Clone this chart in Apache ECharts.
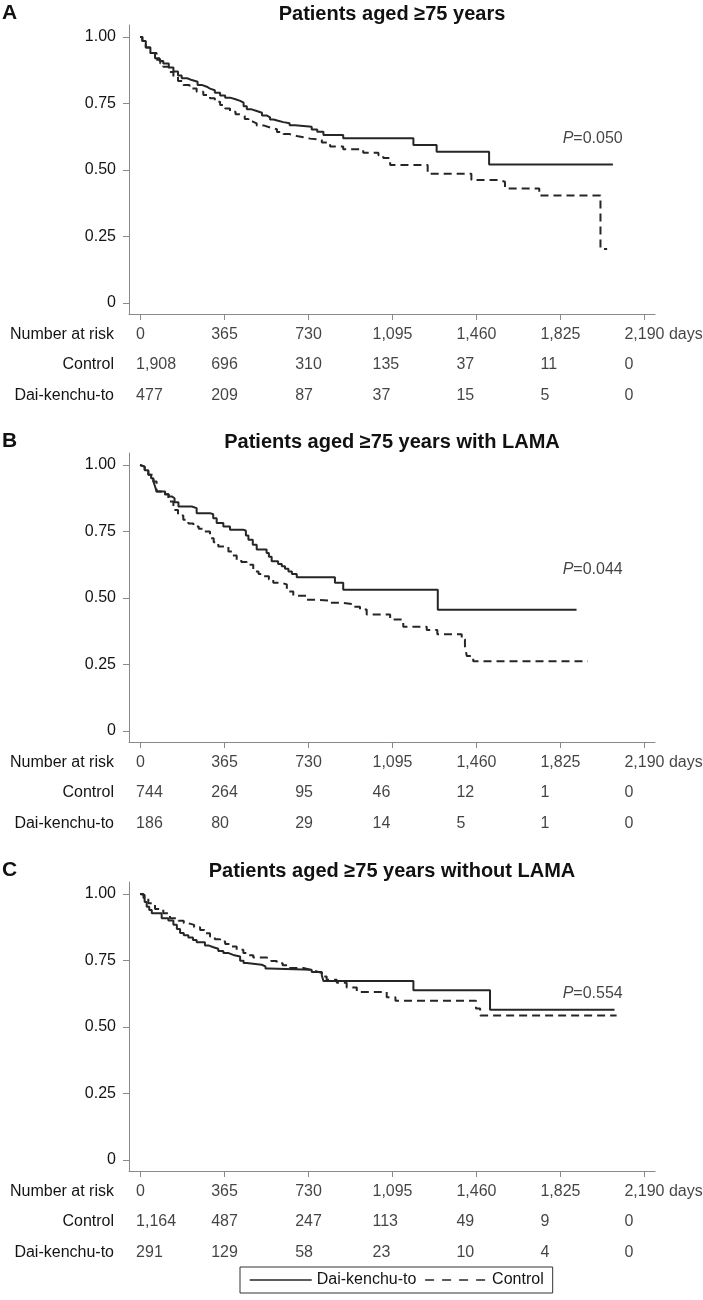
<!DOCTYPE html>
<html><head><meta charset="utf-8">
<script src="https://cdn.jsdelivr.net/npm/echarts@6/dist/echarts.min.js"></script>
<style>html,body{margin:0;padding:0;background:#fff}#c{width:703px;height:1300px}</style>
</head><body><div id="c"></div>
<script>
// ---------------- data ----------------
const dayTicks = [0, 365, 730, 1095, 1460, 1825, 2190];
const dayTickLabels = ['0', '365', '730', '1,095', '1,460', '1,825', '2,190'];
const dayUnit = ' days';
const survTicks = [0, 0.25, 0.5, 0.75, 1];
const survTickLabels = ['0', '0.25', '0.50', '0.75', '1.00'];
const riskRowLabels = ['Number at risk', 'Control', 'Dai-kenchu-to'];
const groupNames = ['Dai-kenchu-to', 'Control'];
const panelLetters = ['A', 'B', 'C'];
const panelTitles = ['Patients aged \u226575 years', 'Patients aged \u226575 years with LAMA', 'Patients aged \u226575 years without LAMA'];
const pValues = ['0.050', '0.044', '0.554'];

const riskControlA = ['1,908', '696', '310', '135', '37', '11', '0'];
const riskDaiA = ['477', '209', '87', '37', '15', '5', '0'];
const riskControlB = ['744', '264', '95', '46', '12', '1', '0'];
const riskDaiB = ['186', '80', '29', '14', '5', '1', '0'];
const riskControlC = ['1,164', '487', '247', '113', '49', '9', '0'];
const riskDaiC = ['291', '129', '58', '23', '10', '4', '0'];

// Kaplan-Meier curves: [day, survival]
const kmDaiA = [[0,1],[10,0.985],[25,0.96],[45,0.94],[65,0.92],[85,0.91],[101,0.9],[125,0.885],[145,0.87],[165,0.855],[181,0.845],[205,0.838],[225,0.832],[250,0.82],[268,0.813],[290,0.806],[304,0.8],[325,0.79],[348,0.78],[370,0.772],[391,0.766],[415,0.76],[435,0.753],[450,0.74],[464,0.728],[485,0.722],[507,0.715],[530,0.705],[550,0.698],[565,0.69],[580,0.685],[600,0.68],[623,0.676],[650,0.668],[674,0.663],[746,0.652],[770,0.644],[797,0.632],[883,0.619],[1188,0.594],[1289,0.569],[1517,0.521],[2055,0.521]];
const kmControlA = [[0,1],[10,0.985],[25,0.96],[45,0.94],[72,0.914],[88,0.9],[101,0.888],[125,0.868],[145,0.851],[165,0.835],[188,0.82],[215,0.806],[246,0.794],[275,0.782],[304,0.77],[325,0.757],[348,0.744],[370,0.731],[391,0.719],[415,0.71],[435,0.703],[455,0.692],[471,0.682],[490,0.675],[507,0.667],[540,0.66],[565,0.653],[595,0.643],[623,0.635],[650,0.628],[681,0.623],[710,0.618],[739,0.613],[790,0.603],[826,0.588],[883,0.578],[970,0.565],[1036,0.556],[1057,0.545],[1087,0.519],[1250,0.486],[1440,0.463],[1555,0.456],[1586,0.431],[1735,0.404],[2001,0.203],[2030,0.203]];
const kmDaiB = [[0,1],[7,0.994],[20,0.98],[36,0.963],[48,0.95],[58,0.938],[65,0.92],[72,0.9],[109,0.89],[125,0.882],[138,0.875],[150,0.86],[167,0.844],[225,0.838],[246,0.819],[304,0.815],[318,0.8],[333,0.782],[362,0.769],[391,0.757],[449,0.753],[460,0.735],[471,0.719],[490,0.7],[507,0.682],[550,0.669],[560,0.655],[572,0.638],[600,0.628],[616,0.619],[630,0.61],[645,0.6],[660,0.59],[681,0.578],[847,0.557],[883,0.531],[1294,0.456],[1897,0.456]];
const kmControlB = [[0,1],[7,0.994],[20,0.98],[36,0.963],[58,0.938],[72,0.9],[101,0.89],[123,0.863],[145,0.831],[165,0.81],[188,0.794],[210,0.78],[232,0.769],[255,0.76],[275,0.75],[304,0.725],[320,0.71],[340,0.694],[384,0.675],[400,0.66],[420,0.644],[440,0.635],[464,0.625],[492,0.6],[515,0.59],[536,0.582],[560,0.57],[579,0.557],[616,0.551],[638,0.525],[666,0.509],[724,0.494],[768,0.49],[826,0.482],[883,0.476],[930,0.467],[956,0.457],[985,0.438],[1087,0.419],[1144,0.392],[1246,0.38],[1292,0.364],[1398,0.345],[1412,0.32],[1420,0.282],[1448,0.262],[1946,0.262]];
const kmDaiC = [[0,1],[7,0.996],[20,0.97],[29,0.952],[40,0.94],[51,0.928],[94,0.909],[123,0.9],[145,0.884],[160,0.868],[174,0.853],[190,0.845],[210,0.836],[230,0.827],[246,0.819],[282,0.806],[300,0.8],[319,0.794],[340,0.786],[362,0.778],[385,0.771],[405,0.765],[435,0.749],[450,0.741],[464,0.734],[529,0.728],[545,0.72],[558,0.715],[746,0.707],[790,0.694],[797,0.673],[1188,0.638],[1521,0.565],[2062,0.565]];
const kmControlC = [[0,1],[15,0.985],[36,0.965],[65,0.944],[101,0.928],[130,0.909],[167,0.899],[190,0.89],[210,0.884],[235,0.875],[261,0.865],[280,0.852],[304,0.84],[325,0.83],[348,0.821],[370,0.812],[391,0.803],[420,0.79],[449,0.778],[470,0.77],[492,0.761],[550,0.757],[570,0.748],[594,0.74],[620,0.732],[652,0.722],[710,0.715],[740,0.709],[768,0.703],[790,0.69],[811,0.678],[855,0.666],[898,0.649],[942,0.632],[1072,0.612],[1110,0.599],[1460,0.57],[1478,0.543],[2071,0.543]];

// ---------------- layout / style ----------------
const FONT = '"Liberation Sans", Arial, Helvetica, sans-serif';
const TXT = '#141414';
const AXIS = '#8a8a8a';
const CURVE = '#262626';
const panelTop = [0, 428, 857];
const pAnchor = [[2100, 0.62], [2100, 0.607], [2100, 0.625]];
const X_MIN = -48, X_MAX = 2238, Y_MIN = -0.041, Y_MAX = 1.045;

const panels = [
  { dai: kmDaiA, ctl: kmControlA, rc: riskControlA, rd: riskDaiA },
  { dai: kmDaiB, ctl: kmControlB, rc: riskControlB, rd: riskDaiB },
  { dai: kmDaiC, ctl: kmControlC, rc: riskControlC, rd: riskDaiC }
];

const ctx = document.createElement('canvas').getContext('2d');
ctx.font = '16px ' + FONT;
const halfW = dayTickLabels.map(t => ctx.measureText(t).width / 2);

const grid = [], xAxis = [], yAxis = [], series = [], graphic = [];

panels.forEach((p, i) => {
  const base = panelTop[i];
  grid.push({ left: 129, top: base + 25, width: 526, height: 289 });
  grid.push({ left: 129, top: base + 319, width: 526, height: 91.5 });
  const gPlot = 2 * i, gRisk = 2 * i + 1;

  xAxis.push({
    type: 'value', gridIndex: gPlot, min: X_MIN, max: X_MAX,
    axisLine: { show: true, onZero: false, lineStyle: { color: AXIS, width: 1 } },
    axisTick: { show: true, customValues: dayTicks, length: 6, lineStyle: { color: AXIS } },
    axisLabel: { show: false }, splitLine: { show: false }
  });
  xAxis.push({
    type: 'value', gridIndex: gRisk, min: X_MIN, max: X_MAX, show: false
  });
  yAxis.push({
    type: 'value', gridIndex: gPlot, min: Y_MIN, max: Y_MAX,
    axisLine: { show: true, onZero: false, lineStyle: { color: AXIS, width: 1 } },
    axisTick: { show: true, customValues: survTicks, length: 6, lineStyle: { color: AXIS } },
    axisLabel: {
      customValues: survTicks, margin: 13, color: TXT, fontSize: 16, fontFamily: FONT,
      formatter: v => survTickLabels[survTicks.indexOf(v)]
    },
    splitLine: { show: false }
  });
  yAxis.push({
    type: 'category', gridIndex: gRisk, data: riskRowLabels, inverse: true,
    axisLine: { show: false }, axisTick: { show: false }, splitLine: { show: false },
    axisLabel: { margin: 15, color: TXT, fontSize: 16, fontFamily: FONT }
  });

  series.push({
    name: groupNames[0], type: 'line', step: 'end', xAxisIndex: gPlot, yAxisIndex: gPlot,
    data: p.dai, symbol: 'none', lineStyle: { color: CURVE, width: 2, type: 'solid' },
    itemStyle: { color: CURVE }, silent: true
  });
  series.push({
    name: groupNames[1], type: 'line', step: 'end', xAxisIndex: gPlot, yAxisIndex: gPlot,
    data: p.ctl, symbol: 'none', lineStyle: { color: CURVE, width: 2, type: [8, 5] },
    itemStyle: { color: CURVE }, silent: true
  });

  // P value annotation
  series.push({
    type: 'scatter', xAxisIndex: gPlot, yAxisIndex: gPlot, silent: true,
    symbolSize: 1, itemStyle: { color: 'rgba(0,0,0,0)' },
    data: [pAnchor[i]],
    label: {
      show: true, position: 'left', distance: 0, align: 'right', verticalAlign: 'middle',
      formatter: '{i|P}=' + pValues[i], color: TXT, fontSize: 16, fontFamily: FONT,
      rich: { i: { fontStyle: 'italic', fontSize: 16, fontFamily: FONT, color: TXT } }
    }
  });

  // Number-at-risk table
  const rows = [
    dayTickLabels.map((t, j) => j === dayTickLabels.length - 1 ? t + dayUnit : t),
    p.rc, p.rd
  ];
  const riskData = [];
  rows.forEach((row, r) => {
    row.forEach((txt, j) => {
      riskData.push({
        value: [dayTicks[j], riskRowLabels[r]],
        label: { formatter: txt, offset: [-halfW[j], 0] }
      });
    });
  });
  series.push({
    type: 'scatter', xAxisIndex: gRisk, yAxisIndex: gRisk, silent: true,
    symbolSize: 1, itemStyle: { color: 'rgba(0,0,0,0)' },
    data: riskData,
    label: {
      show: true, position: 'right', distance: 0, align: 'left', verticalAlign: 'middle',
      color: TXT, fontSize: 16, fontFamily: FONT
    }
  });

  graphic.push({
    type: 'text', left: 2, top: base + 3,
    style: { text: panelLetters[i], font: 'bold 21px ' + FONT, fill: '#111' }
  });
  graphic.push({
    type: 'text', x: 392, y: base + 14,
    style: { text: panelTitles[i], font: 'bold 20px ' + FONT, fill: '#111', textAlign: 'center', textVerticalAlign: 'middle' }
  });
});

const chart = echarts.init(document.getElementById('c'), null, { renderer: 'canvas' });
chart.setOption({
  animation: false,
  backgroundColor: '#fff',
  grid, xAxis, yAxis, series, graphic,
  legend: {
    data: [
      { name: groupNames[0] },
      { name: groupNames[1], lineStyle: { type: [9, 8] } }
    ],
    left: 240, top: 1267,
    itemWidth: 62, itemHeight: 12, itemGap: 8,
    padding: [5, 9, 5, 9],
    borderColor: '#333', borderWidth: 1,
    itemStyle: { opacity: 0 },
    lineStyle: { width: 1.5 },
    textStyle: { color: TXT, fontSize: 16, fontFamily: FONT },
    selectedMode: false
  }
});
</script>
</body></html>
